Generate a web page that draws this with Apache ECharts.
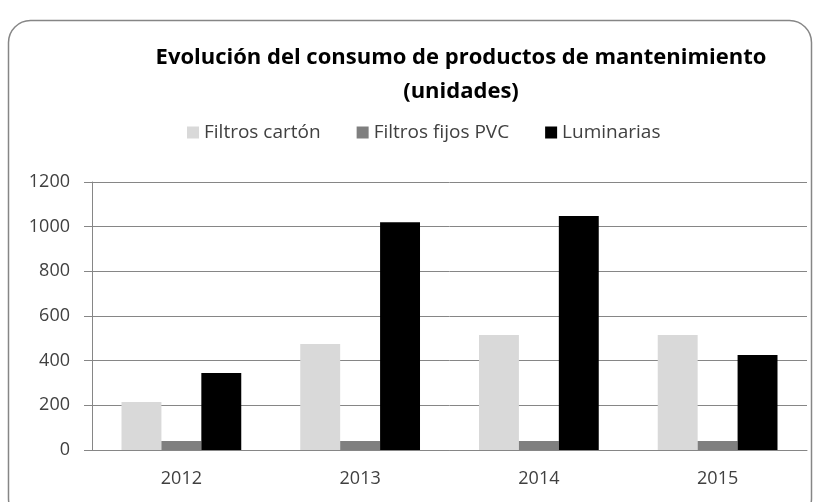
<!DOCTYPE html>
<html>
<head>
<meta charset="utf-8">
<script src="https://cdn.jsdelivr.net/npm/echarts@6/dist/echarts.min.js"></script>
<style>
    html, body { margin: 0; padding: 0; background: #fff; }
    #chart { width: 818px; height: 502px; }
</style>
</head>
<body>
<div id="chart"></div>
<script>
// datos
var years = ['2012', '2013', '2014', '2015'];
var filtrosCarton = [215, 475, 515, 515];
var filtrosPVC = [40, 40, 40, 40];
var luminarias = [345, 1020, 1048, 425];
var yTicks = [0, 200, 400, 600, 800, 1000, 1200];

var font = 'Open Sans';
var myChart = echarts.init(document.getElementById('chart'));
var option = {
    animation: false,
    backgroundColor: '#fff',
    graphic: [{
        type: 'rect',
        shape: { x: 8.5, y: 20.5, width: 803, height: 500, r: 22 },
        style: { fill: 'none', stroke: '#868686', lineWidth: 1.5 },
        z: -1
    }],
    title: {
        text: 'Evolución del consumo de productos de mantenimiento\n(unidades)',
        left: 456,
        top: 36,
        textAlign: 'center',
        textStyle: { fontFamily: font, fontSize: 22, fontWeight: 'bold', color: '#000', lineHeight: 34 }
    },
    legend: {
        top: 118,
        left: 182,
        itemWidth: 12,
        itemHeight: 12,
        itemGap: 36,
        icon: 'rect',
        textStyle: { fontFamily: font, fontSize: 19, color: '#404040' },
        data: ['Filtros cartón', 'Filtros fijos PVC', 'Luminarias']
    },
    grid: { left: 92, right: 11, top: 182, bottom: 52 },
    xAxis: {
        type: 'category',
        data: years,
        axisLine: { lineStyle: { color: '#868686' } },
        axisTick: { length: 8, lineStyle: { color: '#868686' } },
        axisLabel: { fontFamily: font, fontSize: 18, color: '#404040', margin: 20 }
    },
    yAxis: {
        type: 'value',
        min: 0,
        max: yTicks[yTicks.length - 1],
        interval: 200,
        axisLine: { show: true, lineStyle: { color: '#868686' } },
        axisTick: { show: true, length: 8, lineStyle: { color: '#868686' } },
        axisLabel: {
            fontFamily: font, fontSize: 18, color: '#404040', margin: 22,
            formatter: function (v) { return String(v); }
        },
        splitLine: { lineStyle: { color: '#868686' } }
    },
    series: [
        {
            name: 'Filtros cartón',
            type: 'bar',
            data: filtrosCarton,
            barGap: '0%',
            barCategoryGap: '33%',
            itemStyle: { color: '#d9d9d9' }
        },
        {
            name: 'Filtros fijos PVC',
            type: 'bar',
            data: filtrosPVC,
            itemStyle: { color: '#7f7f7f' }
        },
        {
            name: 'Luminarias',
            type: 'bar',
            data: luminarias,
            itemStyle: { color: '#000' }
        }
    ]
};
myChart.setOption(option);
</script>
</body>
</html>
